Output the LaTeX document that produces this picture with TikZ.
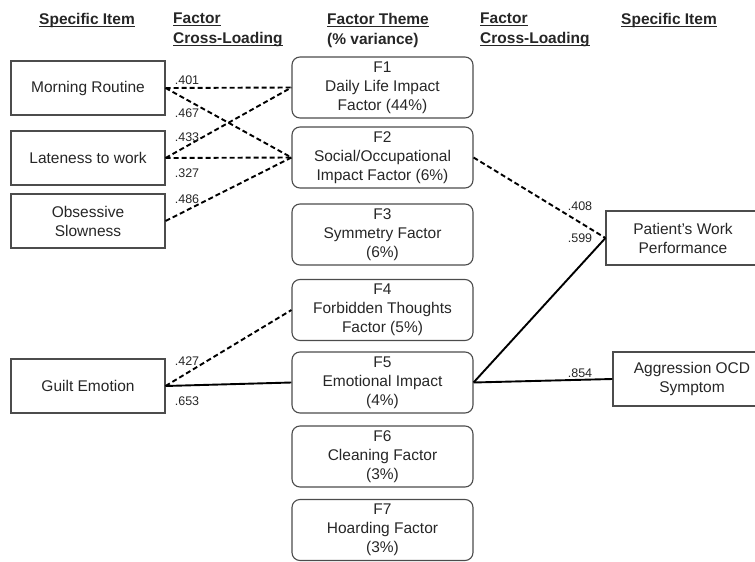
\documentclass[tikz,border=0pt]{standalone}
\usepackage{fontspec}
\setmainfont{Liberation Sans}
\newcommand{\headul}[1]{\setbox0\hbox{#1}\rlap{\rule[-2.6pt]{\wd0}{1.1pt}}\box0}
\tikzset{
  item/.style={draw=black!70, line width=1.1pt, minimum width=154pt, inner sep=0pt, align=center, text=black!85, font=\fontsize{15.5}{19}\selectfont},
  theme/.style={item, rounded corners=8pt, minimum width=181pt, minimum height=61pt},
  head/.style={font=\fontsize{15.5}{20}\selectfont\bfseries, inner sep=0pt, align=left, text=black!85},
  wt/.style={font=\fontsize{12.5}{14}\selectfont, inner sep=0pt, text=black!85},
  link/.style={line width=1.9pt},
  weak/.style={link, dash pattern=on 5pt off 3pt},
}

\begin{document}
\begin{tikzpicture}[x=1pt,y=-1pt]
			\useasboundingbox (0,0) rectangle (755,562);
			\node[head, anchor=north] (hitem) at (87,13) {\headul{Specific Item}};
			\node[head, anchor=north west] (hload) at (173,13) {\headul{Factor}\\\headul{Cross-Loading}};
			\node[head, anchor=north west] (htheme) at (327,13) {\headul{Factor Theme}\\(\% variance)};
			\node[head, anchor=north west] (hloadr) at (480,13) {\headul{Factor}\\\headul{Cross-Loading}};
			\node[head, anchor=north] (hitemr) at (669,13) {\headul{Specific Item}};
			
			\node[item, minimum height=54pt] (morning) at (88,88) {Morning Routine};
			\node[item, minimum height=54pt] (late) at (88,158) {Lateness to work};
			\node[item, minimum height=54pt] (slow) at (88,221) {Obsessive\\Slowness};
			\node[item, minimum height=54pt] (guilt) at (88,386) {Guilt Emotion};
			
			\node[theme] (f1) at (382.5,87.5) {F1\\Daily Life Impact\\Factor (44\%)};
			\node[theme] (f2) at (382.5,157.5) {F2\\Social/Occupational\\Impact Factor (6\%)};
			\node[theme] (f3) at (382.5,234.5) {F3\\Symmetry Factor\\(6\%)};
			\node[theme] (f4) at (382.5,310) {F4\\Forbidden Thoughts\\Factor (5\%)};
			\node[theme] (f5) at (382.5,382.5) {F5\\Emotional Impact\\(4\%)};
			\node[theme] (f6) at (382.5,456.5) {F6\\Cleaning Factor\\(3\%)};
			\node[theme] (f7) at (382.5,530) {F7\\Hoarding Factor\\(3\%)};
			
			\node[item, minimum height=54pt] (work) at (683,238) {Patient's Work\\Performance};
			\node[item, minimum height=54pt, minimum width=158pt] (aggr) at (692,379) {Aggression OCD\\Symptom};
			
			% left cross-loadings
			\draw[weak] (morning.east) -- (f1.west);
			\draw[weak] (morning.east) -- (f2.west);
			\draw[weak] (late.east) -- (f1.west);
			\draw[weak] (late.east) -- (f2.west);
			\draw[weak] (slow.east) -- (f2.west);
			\draw[weak] (guilt.east) -- (f4.west);
			\draw[link] (guilt.east) -- (f5.west);
			\node[wt] (w401) at (187,80) {.401};
			\node[wt] (w467) at (187,113) {.467};
			\node[wt] (w433) at (187,137) {.433};
			\node[wt] (w327) at (187,173) {.327};
			\node[wt] (w486) at (187,199) {.486};
			\node[wt] (w427) at (187,361) {.427};
			\node[wt] (w653) at (187,401) {.653};
			
			% right cross-loadings
			\draw[weak] (f2.east) -- (work.west);
			\draw[link] (f5.east) -- (work.west);
			\draw[link] (f5.east) -- (aggr.west);
			\node[wt] (w408) at (580,206) {.408};
			\node[wt] (w599) at (580,238) {.599};
			\node[wt] (w854) at (580,373) {.854};
		\end{tikzpicture}
\end{document}
